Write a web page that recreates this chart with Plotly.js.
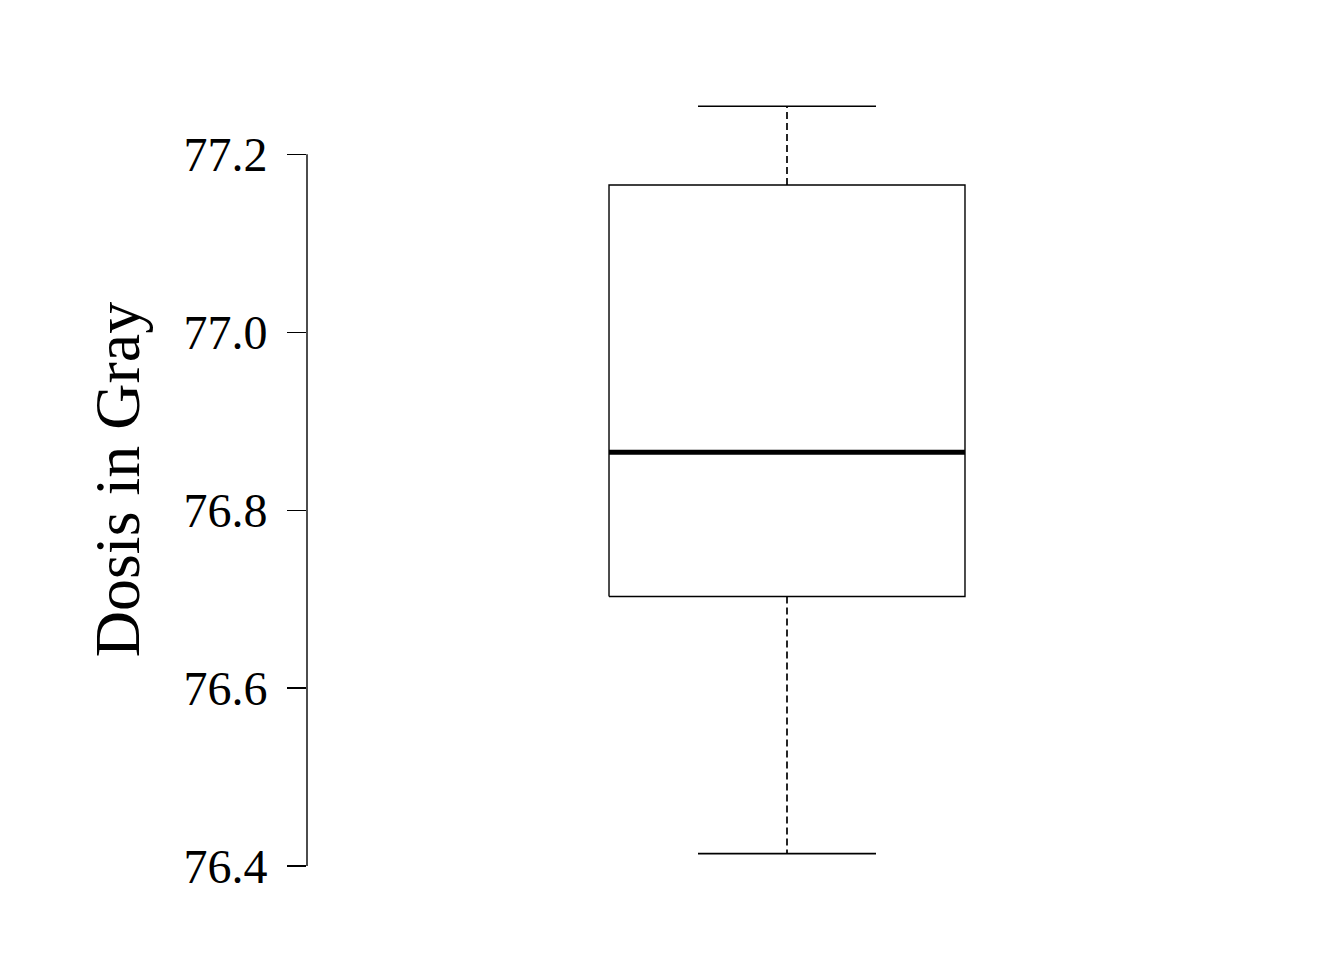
<!DOCTYPE html>
<html>
<head>
<meta charset="utf-8">
<script src="https://cdn.plot.ly/plotly-3.0.1.min.js"></script>
<style>html,body{margin:0;padding:0;background:#fff;}#chart{width:1344px;height:960px;}</style>
</head>
<body>
<div id="chart"></div>
<script>
// Data
const groups = [1];
const lowerWhisker = [76.414];
const q1 = [76.703];
const median = [76.865];
const q3 = [77.1655];
const upperWhisker = [77.254];
const yTicks = [76.4, 76.6, 76.8, 77.0, 77.2];
const yTickLabels = ['76.4', '76.6', '76.8', '77.0', '77.2'];
const yTitle = 'Dosis in Gray';

// Styling / geometry constants (not data)
const boxHalf = 0.4;
const capHalf = 0.2;
const lineCol = '#000';

const traces = [];
groups.forEach((g, i) => {
  // box
  traces.push({
    type: 'scatter', mode: 'lines', hoverinfo: 'skip', showlegend: false,
    x: [g - boxHalf, g + boxHalf, g + boxHalf, g - boxHalf, g - boxHalf],
    y: [q1[i], q1[i], q3[i], q3[i], q1[i]],
    fill: 'toself', fillcolor: '#fff',
    line: {color: lineCol, width: 1.4}
  });
  // median
  traces.push({
    type: 'scatter', mode: 'lines', hoverinfo: 'skip', showlegend: false,
    x: [g - boxHalf, g + boxHalf], y: [median[i], median[i]],
    line: {color: lineCol, width: 5}
  });
  // whiskers (dashed)
  traces.push({
    type: 'scatter', mode: 'lines', hoverinfo: 'skip', showlegend: false,
    x: [g, g, null, g, g], y: [q3[i], upperWhisker[i], null, q1[i], lowerWhisker[i]],
    line: {color: lineCol, width: 1.7, dash: '7px,4px'}
  });
  // caps
  traces.push({
    type: 'scatter', mode: 'lines', hoverinfo: 'skip', showlegend: false,
    x: [g - capHalf, g + capHalf, null, g - capHalf, g + capHalf],
    y: [upperWhisker[i], upperWhisker[i], null, lowerWhisker[i], lowerWhisker[i]],
    line: {color: lineCol, width: 1.6}
  });
});

const layout = {
  width: 1344, height: 960,
  paper_bgcolor: '#fff', plot_bgcolor: '#fff',
  margin: {l: 307, r: 77, t: 76, b: 77},
  font: {family: 'Liberation Serif, Times New Roman, serif', color: '#000'},
  showlegend: false,
  xaxis: {
    range: [1 - 1.0787, 1 + 1.0787],
    visible: false, showgrid: false, zeroline: false, fixedrange: true
  },
  yaxis: {
    range: [76.381, 77.288],
    tickmode: 'array', tickvals: yTicks, ticktext: yTickLabels,
    ticks: 'outside', ticklen: 19, tickwidth: 1.4, tickcolor: lineCol,
    tickfont: {size: 48, family: 'Liberation Serif', color: '#000'},
    ticklabelstandoff: 10,
    showline: false, showgrid: false, zeroline: false,
    title: {text: yTitle, font: {size: 64, family: 'Liberation Serif', color: '#000'}, standoff: 23},
    automargin: false
  },
  shapes: [{
    type: 'line', xref: 'paper', yref: 'y',
    x0: 0, x1: 0,
    y0: Math.min(...yTicks), y1: Math.max(...yTicks),
    line: {color: lineCol, width: 1.4}
  }]
};

Plotly.newPlot('chart', traces, layout, {staticPlot: true, displayModeBar: false});
</script>
</body>
</html>
